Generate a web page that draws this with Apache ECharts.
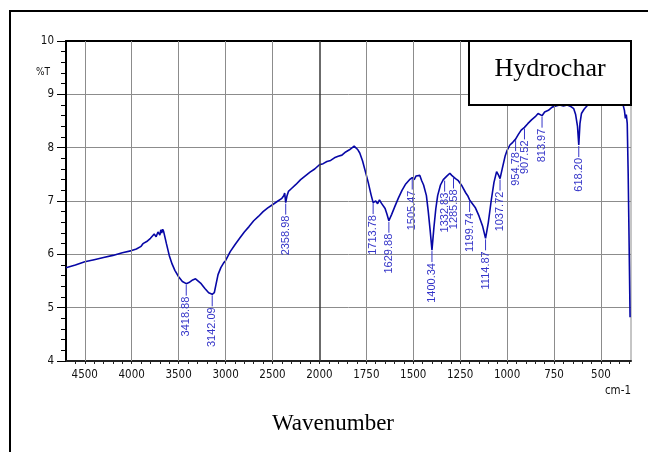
<!DOCTYPE html>
<html>
<head>
<meta charset="utf-8">
<script src="https://cdn.jsdelivr.net/npm/echarts@6/dist/echarts.min.js"></script>
<style>
  html, body { margin: 0; padding: 0; background: #fff; }
  #chart { width: 648px; height: 452px; }
</style>
</head>
<body>
<div id="chart"></div>
<script>
// spectrum (wavenumber cm-1, %T)
const wavenumbers = [4700, 4600, 4500, 4400, 4300, 4200, 4100, 4000, 3950, 3900, 3880, 3860, 3840, 3820, 3800, 3780, 3760, 3740, 3720, 3700, 3690, 3680, 3670, 3660, 3650, 3630, 3600, 3570, 3540, 3500, 3460, 3418.88, 3390, 3350, 3320, 3300, 3260, 3220, 3180, 3142.09, 3120, 3100, 3080, 3050, 3020, 3000, 2950, 2900, 2850, 2800, 2750, 2700, 2650, 2600, 2550, 2500, 2450, 2400, 2380, 2370, 2358.98, 2345, 2330, 2300, 2250, 2200, 2150, 2100, 2050, 2000, 1980, 1960, 1940, 1920, 1900, 1880, 1860, 1840, 1830, 1815, 1805, 1795, 1785, 1770, 1755, 1740, 1725, 1713.78, 1700, 1690, 1680, 1670, 1660, 1650, 1640, 1629.88, 1615, 1600, 1580, 1560, 1540, 1520, 1505.47, 1495, 1485, 1475, 1465, 1455, 1445, 1430, 1420, 1410, 1400.34, 1390, 1380, 1370, 1355, 1340, 1332.83, 1320, 1305, 1295, 1285.58, 1275, 1260, 1240, 1220, 1210, 1199.74, 1190, 1170, 1150, 1130, 1114.87, 1100, 1085, 1070, 1056, 1045, 1037.72, 1025, 1010, 1000, 985, 970, 954.78, 940, 925, 907.52, 890, 870, 850, 835, 813.97, 800, 780, 760, 740, 720, 700, 680, 660, 645, 635, 625, 618.20, 612, 604, 590, 575, 565, 540, 500, 460, 420, 395, 385, 380, 375, 370, 365, 360, 355, 350, 345];
const transmittance = [5.75, 5.80, 5.86, 5.90, 5.94, 5.98, 6.03, 6.07, 6.10, 6.15, 6.20, 6.18, 6.24, 6.22, 6.30, 6.27, 6.38, 6.33, 6.42, 6.36, 6.46, 6.40, 6.47, 6.43, 6.40, 6.20, 5.98, 5.82, 5.70, 5.58, 5.49, 5.45, 5.47, 5.52, 5.54, 5.52, 5.45, 5.36, 5.28, 5.25, 5.28, 5.45, 5.62, 5.75, 5.84, 5.88, 6.05, 6.18, 6.30, 6.42, 6.52, 6.63, 6.71, 6.80, 6.87, 6.93, 6.99, 7.05, 7.10, 7.15, 6.97, 7.10, 7.18, 7.23, 7.31, 7.40, 7.47, 7.54, 7.60, 7.68, 7.70, 7.74, 7.76, 7.81, 7.84, 7.86, 7.92, 7.96, 7.95, 8.03, 8.00, 7.96, 7.90, 7.75, 7.55, 7.35, 7.12, 6.97, 7.00, 6.95, 7.02, 6.96, 6.99, 6.86, 6.75, 6.63, 6.75, 6.88, 7.05, 7.20, 7.32, 7.40, 7.44, 7.40, 7.47, 7.44, 7.48, 7.38, 7.30, 7.10, 6.80, 6.45, 6.08, 6.50, 6.85, 7.10, 7.30, 7.40, 7.40, 7.47, 7.52, 7.48, 7.47, 7.42, 7.38, 7.28, 7.15, 7.10, 7.02, 7.03, 6.88, 6.72, 6.52, 6.30, 6.60, 7.00, 7.35, 7.55, 7.48, 7.42, 7.62, 7.85, 7.95, 8.05, 8.10, 8.16, 8.25, 8.33, 8.38, 8.45, 8.52, 8.58, 8.64, 8.60, 8.67, 8.70, 8.76, 8.78, 8.80, 8.78, 8.80, 8.77, 8.73, 8.62, 8.40, 8.05, 8.45, 8.64, 8.72, 8.78, 8.85, 9.05, 9.20, 9.30, 9.20, 9.00, 8.85, 8.77, 8.70, 8.55, 8.62, 8.45, 7.50, 6.20, 4.82];

// labelled peaks
const peakWn = [3418.88, 3142.09, 2358.98, 1713.78, 1629.88, 1505.47, 1400.34, 1332.83, 1285.58, 1199.74, 1114.87, 1037.72, 954.78, 907.52, 813.97, 618.20];
const peakT = [5.45, 5.25, 6.97, 6.98, 6.63, 7.44, 6.08, 7.40, 7.46, 7.02, 6.30, 7.42, 8.16, 8.38, 8.60, 8.05];

const xTicks = [4500, 4000, 3500, 3000, 2500, 2000, 1750, 1500, 1250, 1000, 750, 500];
const yTicks = [4, 5, 6, 7, 8, 9, 10];

// the x scale is halved above 2000 cm-1: one grid cell = 500 above, 250 below
function toU (w) {
  return w >= 2000 ? (4500 - w) / 500 : 5 + (2000 - w) / 250
}
function toW (u) {
  return u <= 5 ? 4500 - 500 * u : 2000 - 250 * (u - 5)
}

const narrow = "'Liberation Sans Narrow', 'Arial Narrow', 'DejaVu Sans Condensed', sans-serif"
const blue = '#3535c8'

const chart = echarts.init(document.getElementById('chart'))

const option = {
  backgroundColor: '#fff',
  animation: false,
  grid: {
    left: 66,
    top: 41,
    right: 17,
    bottom: 91,
    containLabel: false,
    outerBoundsMode: 'none',
    show: true,
    borderColor: '#8c8c8c',
    borderWidth: 1
  },
  xAxis: [{
    type: 'value',
    min: toU(4700),
    max: toU(340),
    interval: 0.2,
    axisLine: { show: true, onZero: false, lineStyle: { color: '#222', width: 2 } },
    axisTick: { show: true, length: 3, lineStyle: { color: '#222' } },
    splitLine: { show: false },
    axisLabel: {
      margin: 8,
      color: '#111',
      fontFamily: narrow,
      fontSize: 11.5,
      showMinLabel: false,
      showMaxLabel: false,
      formatter: function (v) {
        const r = Math.round(v)
        if (Math.abs(v - r) > 1e-6) return ''
        const w = toW(r)
        return xTicks.indexOf(w) >= 0 ? String(w) : ''
      }
    }
  }, {
    // black top edge of the plot
    type: 'value',
    position: 'top',
    min: toU(4700),
    max: toU(340),
    axisLine: { show: true, onZero: false, lineStyle: { color: '#000', width: 2 } },
    axisTick: { show: false },
    axisLabel: { show: false },
    splitLine: { show: false }
  }],
  yAxis: {
    type: 'value',
    min: 4,
    max: 10,
    interval: 1,
    axisLine: { show: true, onZero: false, lineStyle: { color: '#000', width: 2 } },
    axisTick: { show: true, length: 9, lineStyle: { color: '#000' } },
    minorTick: { show: true, splitNumber: 5, length: 5, lineStyle: { color: '#000' } },
    splitLine: { show: true, lineStyle: { color: '#8c8c8c', width: 1 } },
    axisLabel: {
      margin: 12,
      color: '#111',
      fontFamily: narrow,
      fontSize: 11.5,
      formatter: function (v) { return yTicks.indexOf(v) >= 0 ? String(v) : '' }
    }
  },
  series: [{
    // vertical grid lines at the labelled wavenumbers
    type: 'line',
    data: [],
    z: 1,
    markLine: {
      silent: true,
      symbol: ['none', 'none'],
      label: { show: false },
      animation: false,
      data: xTicks.map(function (w) {
        return {
          xAxis: toU(w),
          lineStyle: w === 2000
            ? { color: '#3a3a3a', width: 1.5, type: 'solid' }
            : { color: '#8c8c8c', width: 1, type: 'solid' }
        }
      })
    }
  }, {
    name: 'Hydrochar',
    type: 'line',
    z: 3,
    showSymbol: false,
    symbol: 'none',
    lineStyle: { color: '#0707a6', width: 1.6 },
    data: wavenumbers.map(function (w, i) { return [toU(w), transmittance[i]] })
  }, {
    // peak labels with their leader lines
    type: 'custom',
    z: 4,
    data: peakWn.map(function (w, i) { return [toU(w), peakT[i]] }),
    renderItem: function (params, api) {
      const p = api.coord([api.value(0), api.value(1)])
      const txt = peakWn[params.dataIndex].toFixed(2)
      return {
        type: 'group',
        children: [{
          type: 'line',
          shape: { x1: p[0], y1: p[1] + 1, x2: p[0], y2: p[1] + 12 },
          style: { stroke: blue, lineWidth: 1 }
        }, {
          type: 'text',
          x: p[0],
          y: p[1] + 13,
          rotation: Math.PI / 2,
          style: {
            text: txt,
            fill: blue,
            font: "11px 'Liberation Sans', Arial, sans-serif",
            align: 'right',
            verticalAlign: 'middle'
          }
        }]
      }
    }
  }],
  graphic: [{
    type: 'rect',
    z: 100,
    shape: { x: 10, y: 11, width: 700, height: 500 },
    style: { fill: 'none', stroke: '#000', lineWidth: 2 }
  }, {
    type: 'rect',
    z: 100,
    shape: { x: 469, y: 41, width: 162, height: 64 },
    style: { fill: '#fff', stroke: '#000', lineWidth: 2 }
  }, {
    type: 'text',
    z: 101,
    x: 550,
    y: 69,
    style: {
      text: 'Hydrochar',
      fill: '#000',
      font: "26px 'Liberation Serif', 'Times New Roman', serif",
      align: 'center',
      verticalAlign: 'middle'
    }
  }, {
    type: 'text',
    z: 100,
    x: 50,
    y: 72,
    style: {
      text: '%T',
      fill: '#111',
      font: '10px ' + narrow,
      align: 'right',
      verticalAlign: 'middle'
    }
  }, {
    type: 'text',
    z: 100,
    x: 631,
    y: 391,
    style: {
      text: 'cm-1',
      fill: '#111',
      font: '11.5px ' + narrow,
      align: 'right',
      verticalAlign: 'middle'
    }
  }, {
    type: 'text',
    z: 100,
    x: 333,
    y: 424,
    style: {
      text: 'Wavenumber',
      fill: '#000',
      font: "23px 'Liberation Serif', 'Times New Roman', serif",
      align: 'center',
      verticalAlign: 'middle'
    }
  }]
}

chart.setOption(option)
</script>
</body>
</html>
